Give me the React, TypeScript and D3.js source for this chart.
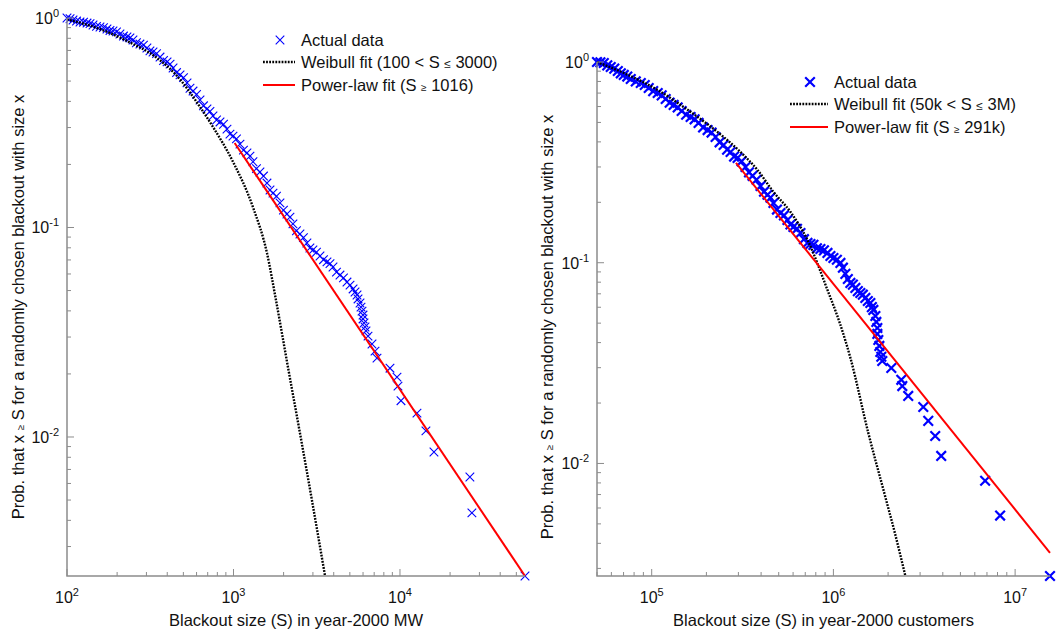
import React, { useEffect, useRef } from 'react';
import * as d3 from 'd3';

const width = 1057, height = 636;

// left panel: blackout size in MW
const mwActualS = [100, 104.3, 108.7, 114.1, 119.7, 125.7, 131.9, 137.5, 143.3, 150.4, 157.8, 165.6, 173.8, 181.2, 188.9, 198.2, 208, 218.3, 229.1, 238.8, 249, 261.3, 274.2, 287.8, 302, 315, 328.6, 344.9, 362, 380, 399, 416, 433.5, 455, 477.5, 501, 526, 548, 571.5, 600, 629.5, 660.5, 693, 722, 753, 790.5, 830, 871, 914, 952.6, 993, 1042, 1094, 1148, 1205, 1256, 1309, 1374, 1442, 1514, 1589, 1657, 1727, 1812, 1902, 1996, 2095, 2184, 2276, 2389, 2507, 2631, 2761, 2878, 3000, 3150, 3308, 3472, 3644, 3799, 3960, 4156, 4362, 4578, 4805,
    5012, 5227, 5370, 5521, 5598, 5754, 5834, 5916, 5998, 5998, 6082, 6166, 6252, 6427, 6792, 7080, 7278, 8710, 9594, 9730, 10140, 12650, 14320, 16000, 26300, 27040, 56360];
const mwActualP = [1, 0.992, 0.978, 0.967, 0.957, 0.955, 0.946, 0.94, 0.926, 0.912, 0.906, 0.9, 0.886, 0.872, 0.867, 0.858, 0.839, 0.82, 0.812, 0.803, 0.785, 0.762, 0.751, 0.742, 0.719, 0.697, 0.688, 0.676, 0.651, 0.627, 0.617, 0.602, 0.577, 0.549, 0.535, 0.519, 0.49, 0.462, 0.448, 0.432, 0.406, 0.381, 0.368, 0.358, 0.341, 0.326, 0.319, 0.311, 0.295, 0.279, 0.273, 0.265, 0.25, 0.234, 0.227, 0.219, 0.206, 0.191, 0.184, 0.176, 0.163, 0.151, 0.146, 0.141, 0.131, 0.121, 0.116, 0.112, 0.104, 0.0965, 0.0931, 0.0895, 0.0843, 0.0798, 0.0781, 0.0762, 0.0731, 0.0702, 0.0685, 0.0672, 0.0648, 0.0612, 0.0593, 0.0575, 0.0549,
    0.0531, 0.0509, 0.0492, 0.0476, 0.0456, 0.0436, 0.0417, 0.0399, 0.0382, 0.0366, 0.035, 0.0335, 0.0321, 0.0303, 0.0278, 0.0257, 0.0238, 0.0213, 0.0193, 0.0175, 0.0149, 0.013, 0.0107, 0.00848, 0.00644, 0.00434, 0.00217];
const mwWeibullS = [100, 151.4, 229, 347.5, 458, 629.5, 753, 993, 1309, 1589, 1799, 2123, 2507, 2958, 3548];
const mwWeibullP = [0.985, 0.896, 0.777, 0.644, 0.529, 0.376, 0.302, 0.206, 0.125, 0.0755, 0.0451, 0.0216, 0.01045, 0.005, 0.00217];
const mwPowerS = [1016, 56360];
const mwPowerP = [0.253, 0.00217];

// right panel: blackout size in customers
const custActualS = [50000, 52200, 54500, 56950, 59500, 62240, 65100, 67600, 70200, 73380, 76700, 81740, 87100, 91580, 96300, 101900, 107900, 113500, 119400, 125600, 132100, 139000, 146200, 154700, 163800, 172300, 181200, 191800, 203100, 213600, 224700, 236400, 248700, 260000, 271800, 284100, 297000, 312300, 328400, 343300, 358900, 377500, 397100, 415100, 433900, 450600, 467900, 489100, 511300, 534500, 558800, 580300, 602600, 630100, 658800, 688700, 719900, 747500, 776300, 811600, 848500, 887000, 927300, 963000, 1000000, 1045000, 1093000, 1128000, 1164000, 1201000, 1240000, 1280000, 1321000, 1363000, 1407000, 1452000, 1499000, 1547000, 1597000, 1628000, 1659000,
    1702000, 1723000, 1745000, 1745000, 1767000, 1790000, 1812000, 1835000, 1858000, 2083000, 2364000, 2394000, 2581000, 3124000, 3327000, 3633000, 3920000, 6840000, 8270000, 15560000];
const custActualP = [1, 0.996, 0.989, 0.962, 0.944, 0.927, 0.902, 0.878, 0.862, 0.846, 0.823, 0.8, 0.786, 0.768, 0.742, 0.716, 0.701, 0.682, 0.654, 0.627, 0.611, 0.594, 0.57, 0.546, 0.532, 0.518, 0.497, 0.472, 0.458, 0.445, 0.423, 0.398, 0.386, 0.366, 0.356, 0.338, 0.333, 0.32, 0.3, 0.282, 0.271, 0.259, 0.241, 0.226, 0.218, 0.211, 0.1985, 0.184, 0.177, 0.172, 0.1633, 0.155, 0.1508, 0.1475, 0.1407, 0.131, 0.1255, 0.124, 0.1227, 0.118, 0.1171, 0.1152, 0.1119, 0.108, 0.1056, 0.1035, 0.0998, 0.0945, 0.088, 0.083, 0.0793, 0.0778, 0.0749, 0.0722, 0.0707, 0.0693, 0.0668, 0.0645, 0.063, 0.0601, 0.0582,
    0.0543, 0.0507, 0.0473, 0.0442, 0.0412, 0.0385, 0.0359, 0.034, 0.0324, 0.0299, 0.0261, 0.0243, 0.0217, 0.0191, 0.0163, 0.0137, 0.0109, 0.0082, 0.0055, 0.00275];
const custWeibullS = [50000, 70200, 107900, 163800, 248700, 308400, 382000, 467900, 580800, 719900, 927300, 1093000, 1240000, 1556000, 1930000, 2192000, 2489000];
const custWeibullP = [1, 0.882, 0.725, 0.564, 0.423, 0.356, 0.29, 0.2253, 0.179, 0.1299, 0.0732, 0.049, 0.0336, 0.0142, 0.00682, 0.00441, 0.00275];
const custPowerS = [291000, 15560000];
const custPowerP = [0.314, 0.00359];

const font = '"Liberation Sans", Arial, Helvetica, sans-serif';
const blue = '#0000ff';
const axisGrey = '#8c8c8c';
const dots = '1.8,1.3';

const panels = [
    {
        left: 67, right: 525, top: 18, bottom: 576,
        xDomain: [100, 56360], yDomain: [0.00217, 1],
        actualS: mwActualS, actualP: mwActualP,
        weibullS: mwWeibullS, weibullP: mwWeibullP,
        powerS: mwPowerS, powerP: mwPowerP,
        markHalf: 4.3, markWidth: 1.1,
        xLabel: 'Blackout size (S) in year-2000 MW',
        yLabelX: 18, yLabelY: 307,
        legendX: 263, legendY: 40, legendLine: 32,
        weibullText: ['Weibull fit (100 < S ', '≤', ' 3000)'],
        powerText: ['Power-law fit (S ', '≥', ' 1016)']
    },
    {
        left: 597, right: 1050, top: 62, bottom: 576,
        xDomain: [50000, 15560000], yDomain: [0.00275, 1],
        actualS: custActualS, actualP: custActualP,
        weibullS: custWeibullS, weibullP: custWeibullP,
        powerS: custPowerS, powerP: custPowerP,
        markHalf: 4.8, markWidth: 2.2,
        xLabel: 'Blackout size (S) in year-2000 customers',
        yLabelX: 547, yLabelY: 327,
        legendX: 790, legendY: 82, legendLine: 38,
        weibullText: ['Weibull fit (50k < S ', '≤', ' 3M)'],
        powerText: ['Power-law fit (S ', '≥', ' 291k)']
    }
];

function drawPanel(svg, p) {
    const x = d3.scaleLog().domain(p.xDomain).range([p.left, p.right]);
    const y = d3.scaleLog().domain(p.yDomain).range([p.bottom, p.top]);
    const g = svg.append('g');

    // actual data, x markers
    const cross = (h) => `M${-h},${-h}L${h},${h}M${-h},${h}L${h},${-h}`;
    g.append('g')
        .selectAll('path')
        .data(p.actualS.map((s, i) => [s, p.actualP[i]]))
        .enter()
        .append('path')
        .attr('d', cross(p.markHalf))
        .attr('transform', d => `translate(${x(d[0])},${y(d[1])})`)
        .attr('stroke', blue)
        .attr('stroke-width', p.markWidth)
        .attr('fill', 'none');

    const line = d3.line()
        .x(d => x(d[0]))
        .y(d => y(d[1]))
        .curve(d3.curveMonotoneX);

    // Weibull fit
    g.append('path')
        .datum(p.weibullS.map((s, i) => [s, p.weibullP[i]]))
        .attr('d', line)
        .attr('fill', 'none')
        .attr('stroke', '#000')
        .attr('stroke-width', 2.4)
        .attr('stroke-dasharray', dots);

    // power-law fit
    g.append('path')
        .datum(p.powerS.map((s, i) => [s, p.powerP[i]]))
        .attr('d', d3.line().x(d => x(d[0])).y(d => y(d[1])))
        .attr('fill', 'none')
        .attr('stroke', '#ff0000')
        .attr('stroke-width', 2);

    // axes: left and bottom only, ticks pointing in
    const ax = g.append('g');
    const isMajor = v => Math.abs(Math.log10(v) - Math.round(Math.log10(v))) < 1e-9;

    x.ticks().forEach(v => {
        const major = isMajor(v);
        ax.append('line')
            .attr('x1', x(v)).attr('x2', x(v))
            .attr('y1', p.bottom).attr('y2', p.bottom - (major ? 7 : 4))
            .attr('stroke', axisGrey).attr('stroke-width', 1);
        if (major) {
            const t = ax.append('text')
                .attr('x', x(v)).attr('y', p.bottom + 27)
                .attr('text-anchor', 'middle')
                .attr('font-family', font).attr('font-size', 16).attr('fill', '#111');
            t.append('tspan').text('10');
            t.append('tspan').attr('dy', -7).attr('font-size', 11).text(Math.round(Math.log10(v)));
        }
    });
    y.ticks().forEach(v => {
        const major = isMajor(v);
        ax.append('line')
            .attr('x1', p.left).attr('x2', p.left + (major ? 7 : 4))
            .attr('y1', y(v)).attr('y2', y(v))
            .attr('stroke', axisGrey).attr('stroke-width', 1);
        if (major) {
            const t = ax.append('text')
                .attr('x', p.left - 8).attr('y', y(v) + 6)
                .attr('text-anchor', 'end')
                .attr('font-family', font).attr('font-size', 16).attr('fill', '#111');
            t.append('tspan').text('10');
            t.append('tspan').attr('dy', -7).attr('font-size', 11).text(Math.round(Math.log10(v)));
        }
    });
    ax.append('path')
        .attr('d', `M${p.left},${p.top}V${p.bottom}H${p.right}`)
        .attr('fill', 'none')
        .attr('stroke', axisGrey)
        .attr('stroke-width', 1.5);

    // axis labels
    g.append('text')
        .attr('x', (p.left + p.right) / 2).attr('y', p.bottom + 50)
        .attr('text-anchor', 'middle')
        .attr('font-family', font).attr('font-size', 16.5).attr('fill', '#111')
        .text(p.xLabel);

    const yl = g.append('text')
        .attr('transform', `translate(${p.yLabelX},${p.yLabelY}) rotate(-90)`)
        .attr('dy', '0.35em')
        .attr('text-anchor', 'middle')
        .attr('font-family', font).attr('font-size', 16.5).attr('fill', '#111');
    yl.append('tspan').text('Prob. that x ');
    yl.append('tspan').attr('font-size', 10).text('≥');
    yl.append('tspan').text(' S for a randomly chosen blackout with size x');

    // legend
    const lg = g.append('g').attr('font-family', font).attr('font-size', 16.5).attr('fill', '#111');
    const tx = p.legendX + p.legendLine + 6;
    const rows = [p.legendY, p.legendY + 22, p.legendY + 45];
    lg.append('path')
        .attr('d', cross(p.markHalf))
        .attr('transform', `translate(${p.legendX + p.legendLine / 2 + 1},${rows[0]})`)
        .attr('stroke', blue).attr('stroke-width', p.markWidth).attr('fill', 'none');
    lg.append('text').attr('x', tx).attr('y', rows[0]).attr('dy', '0.35em').text('Actual data');

    lg.append('line')
        .attr('x1', p.legendX).attr('x2', p.legendX + p.legendLine)
        .attr('y1', rows[1]).attr('y2', rows[1])
        .attr('stroke', '#000').attr('stroke-width', 2.4).attr('stroke-dasharray', dots);
    const wt = lg.append('text').attr('x', tx).attr('y', rows[1]).attr('dy', '0.35em');
    wt.append('tspan').text(p.weibullText[0]);
    wt.append('tspan').attr('font-size', 12).text(p.weibullText[1]);
    wt.append('tspan').text(p.weibullText[2]);

    lg.append('line')
        .attr('x1', p.legendX).attr('x2', p.legendX + p.legendLine)
        .attr('y1', rows[2]).attr('y2', rows[2])
        .attr('stroke', '#ff0000').attr('stroke-width', 2);
    const pt = lg.append('text').attr('x', tx).attr('y', rows[2]).attr('dy', '0.35em');
    pt.append('tspan').text(p.powerText[0]);
    pt.append('tspan').attr('font-size', 10).text(p.powerText[1]);
    pt.append('tspan').text(p.powerText[2]);
}

export default function App() {
    const ref = useRef(null);

    useEffect(() => {
        const svg = d3.select(ref.current);
        svg.selectAll('*').remove();
        panels.forEach(p => drawPanel(svg, p));
    }, []);

    return (
        <svg
            ref={ref}
            width={width}
            height={height}
            style={{ position: 'absolute', left: 0, top: 0, background: '#fff' }}
        />
    );
}
